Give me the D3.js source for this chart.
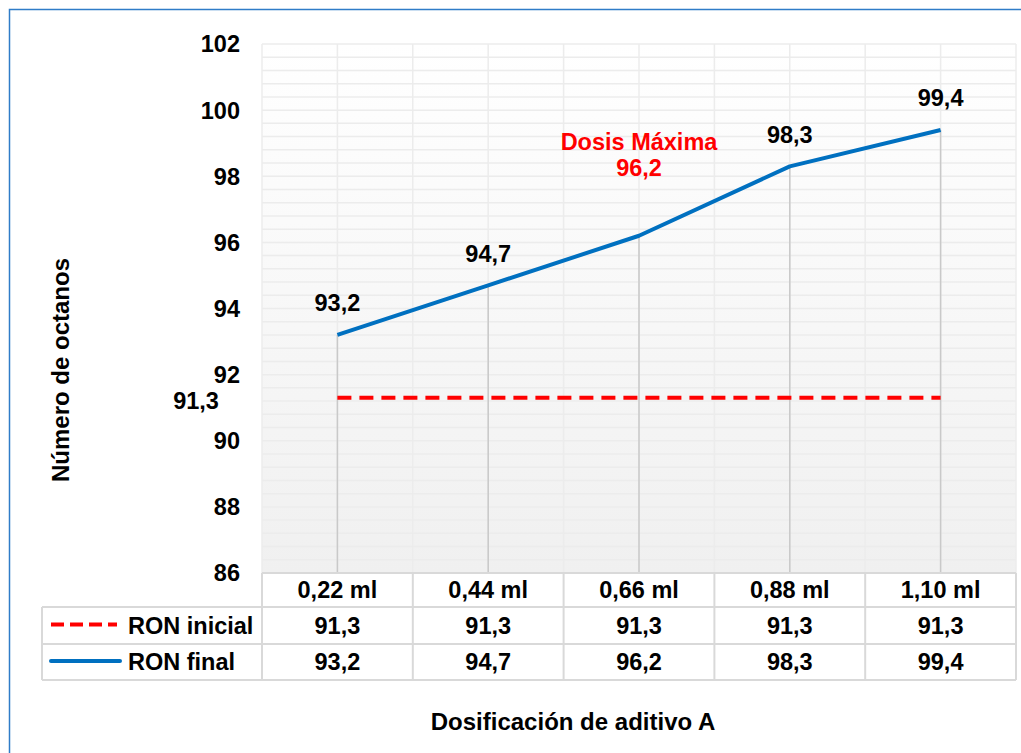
<!DOCTYPE html>
<html><head><meta charset="utf-8">
<script src="https://cdn.jsdelivr.net/npm/d3@7"></script>
<style>
html,body{margin:0;padding:0;background:#fff;}
svg text{font-family:"Liberation Sans",Arial,sans-serif;font-weight:bold;}
</style></head>
<body>
<svg id="chart" width="1021" height="753"></svg>
<script>
const categories = ["0,22 ml","0,44 ml","0,66 ml","0,88 ml","1,10 ml"];
const ronInicial = [91.3, 91.3, 91.3, 91.3, 91.3];
const ronFinal = [93.2, 94.7, 96.2, 98.3, 99.4];
const yTicks = [86, 88, 90, 92, 94, 96, 98, 100, 102];
const seriesNames = ["RON inicial", "RON final"];
const yTitle = "Número de octanos";
const xTitle = "Dosificación de aditivo A";
const annotation = ["Dosis Máxima", "96,2"];

const FS = 23.5;
const fmt = v => v.toFixed(1).replace(".", ",");
const svg = d3.select("#chart");

const L = 262, R = 1016, T = 44, B = 573;
const x = d3.scaleBand().domain(categories).range([L, R]);
const y = d3.scaleLinear().domain([86, 102]).range([B, T]);
const cx = c => x(c) + x.bandwidth() / 2;

// outer border
svg.append("rect").attr("x", 9.5).attr("y", 9.5).attr("width", 1030).attr("height", 760)
  .attr("fill", "none").attr("stroke", "#2f7cc8").attr("stroke-width", 1.5);

// gradient background
const defs = svg.append("defs");
const grad = defs.append("linearGradient").attr("id", "bg").attr("x1", 0).attr("y1", 0).attr("x2", 0).attr("y2", 1);
grad.append("stop").attr("offset", "0%").attr("stop-color", "#ffffff");
grad.append("stop").attr("offset", "100%").attr("stop-color", "#f0f0f0");
svg.append("rect").attr("x", L).attr("y", T).attr("width", R - L).attr("height", B - T).attr("fill", "url(#bg)");

// minor + major horizontal gridlines
const minor = d3.range(86, 102.0001, 0.4);
svg.append("g").selectAll("line").data(minor).join("line")
  .attr("x1", L).attr("x2", R).attr("y1", d => y(d)).attr("y2", d => y(d))
  .attr("stroke", "#ececec").attr("stroke-width", 1.5);

// vertical gridlines at boundaries and centers
const vlines = [];
categories.forEach(c => { vlines.push(x(c)); vlines.push(cx(c)); });
vlines.push(R);
svg.append("g").selectAll("line").data(vlines).join("line")
  .attr("x1", d => d).attr("x2", d => d).attr("y1", T).attr("y2", B)
  .attr("stroke", "#ececec").attr("stroke-width", 1.5);

// drop lines
svg.append("g").selectAll("line").data(categories).join("line")
  .attr("x1", c => cx(c)).attr("x2", c => cx(c))
  .attr("y1", (c, i) => y(ronFinal[i])).attr("y2", B)
  .attr("stroke", "#c9c9c9").attr("stroke-width", 1.5);

// y tick labels
svg.append("g").selectAll("text").data(yTicks).join("text")
  .attr("x", 240).attr("y", d => y(d)).attr("dy", "0.36em")
  .attr("text-anchor", "end").attr("font-size", FS).attr("fill", "#000")
  .text(d => d);

// series lines
const line = d3.line().x((d, i) => cx(categories[i])).y(d => y(d));
svg.append("path").datum(ronInicial).attr("d", line).attr("fill", "none")
  .attr("stroke", "#ff0000").attr("stroke-width", 4).attr("stroke-dasharray", "14,8");
svg.append("path").datum(ronFinal).attr("d", line).attr("fill", "none")
  .attr("stroke", "#0070c0").attr("stroke-width", 4).attr("stroke-linejoin", "round");

// data labels
ronFinal.forEach((d, i) => {
  if (i === 2) return;
  svg.append("text").attr("x", cx(categories[i])).attr("y", y(d) - 32).attr("dy", "0.36em")
    .attr("text-anchor", "middle").attr("font-size", FS).attr("fill", "#000").text(fmt(d));
});

const ann = svg.append("text").attr("text-anchor", "middle").attr("font-size", FS).attr("fill", "#ff0000");
ann.append("tspan").attr("x", cx(categories[2])).attr("y", y(ronFinal[2]) - 94).attr("dy", "0.36em").text(annotation[0]);
ann.append("tspan").attr("x", cx(categories[2])).attr("y", y(ronFinal[2]) - 68).attr("dy", "0.36em").text(annotation[1]);

svg.append("text").attr("x", 196).attr("y", y(ronInicial[0]) + 3).attr("dy", "0.36em")
  .attr("text-anchor", "middle").attr("font-size", FS).attr("fill", "#000").text(fmt(ronInicial[0]));

// data table
const rowH = [573, 607, 644, 680];
const tLeft = 42;
const tg = svg.append("g").attr("stroke", "#d9d9d9").attr("stroke-width", 2);
tg.append("line").attr("x1", L).attr("x2", R).attr("y1", rowH[0]).attr("y2", rowH[0]);
[1, 2, 3].forEach(k => tg.append("line").attr("x1", tLeft).attr("x2", R).attr("y1", rowH[k]).attr("y2", rowH[k]));
const bounds = categories.map(c => x(c)).concat([R]);
bounds.forEach(b => tg.append("line").attr("x1", b).attr("x2", b).attr("y1", rowH[0]).attr("y2", rowH[3]));
tg.append("line").attr("x1", tLeft).attr("x2", tLeft).attr("y1", rowH[1]).attr("y2", rowH[3]);

const cellText = (txt, xx, yy) => svg.append("text").attr("x", xx).attr("y", yy).attr("dy", "0.36em")
  .attr("text-anchor", "middle").attr("font-size", FS).attr("fill", "#000").text(txt);
categories.forEach((c, i) => {
  cellText(c, cx(c), (rowH[0] + rowH[1]) / 2);
  cellText(fmt(ronInicial[i]), cx(c), (rowH[1] + rowH[2]) / 2);
  cellText(fmt(ronFinal[i]), cx(c), (rowH[2] + rowH[3]) / 2);
});

// legend keys
const ly1 = (rowH[1] + rowH[2]) / 2, ly2 = (rowH[2] + rowH[3]) / 2;
svg.append("line").attr("x1", 51).attr("x2", 117).attr("y1", ly1 - 1).attr("y2", ly1 - 1)
  .attr("stroke", "#ff0000").attr("stroke-width", 4).attr("stroke-dasharray", "13,6");
svg.append("line").attr("x1", 51).attr("x2", 120).attr("y1", ly2 - 1).attr("y2", ly2 - 1)
  .attr("stroke", "#0070c0").attr("stroke-width", 4).attr("stroke-linecap", "round");
svg.append("text").attr("x", 128).attr("y", ly1).attr("dy", "0.36em").attr("font-size", FS).attr("fill", "#000").text(seriesNames[0]);
svg.append("text").attr("x", 128).attr("y", ly2).attr("dy", "0.36em").attr("font-size", FS).attr("fill", "#000").text(seriesNames[1]);

// axis titles
svg.append("text").attr("x", 573).attr("y", 721).attr("dy", "0.36em").attr("text-anchor", "middle")
  .attr("font-size", 24).attr("fill", "#000").text(xTitle);
svg.append("text").attr("transform", "translate(60,370) rotate(-90)").attr("dy", "0.36em").attr("text-anchor", "middle")
  .attr("font-size", 24).attr("fill", "#000").text(yTitle);
</script>
</body></html>
